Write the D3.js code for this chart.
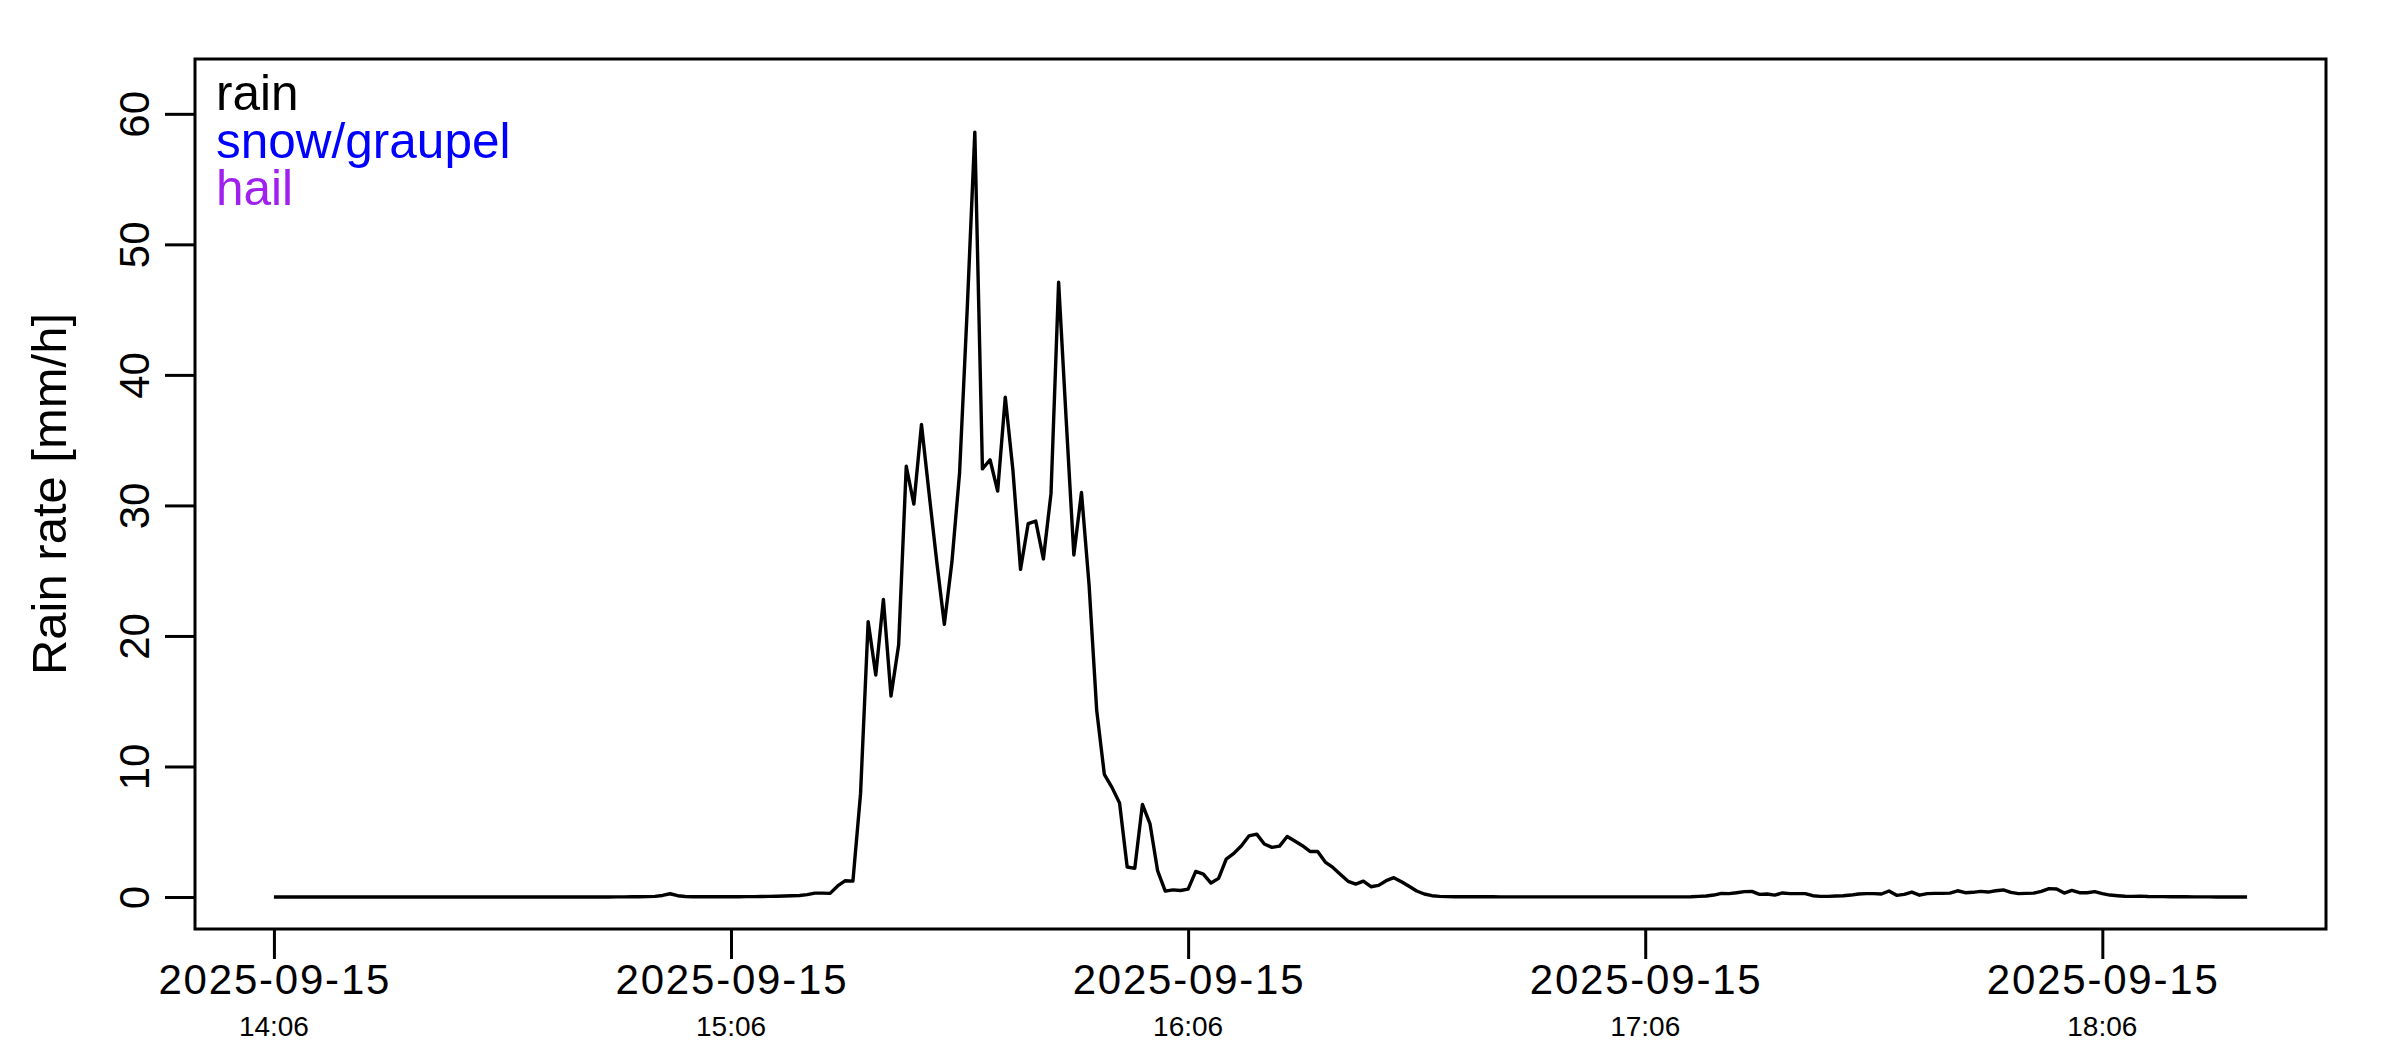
<!DOCTYPE html>
<html>
<head>
<meta charset="utf-8">
<script src="https://cdn.jsdelivr.net/npm/d3@7"></script>
<style>
  html, body { margin: 0; padding: 0; background: #fff; }
  svg { display: block; }
  text { font-family: "Liberation Sans", Arial, Helvetica, sans-serif; fill: #000; }
</style>
</head>
<body>
<svg id="chart" width="2400" height="1050"></svg>
<script>
// ---------------- DATA ----------------
const startTime = "2025-09-15T14:06:00";      // first sample, 1-minute steps
const stepMinutes = 1;
const rainRate = [
  0,0,0,0,0,0,0,0,0,0,
  0,0,0,0,0,0,0,0,0,0,
  0,0,0,0,0,0,0,0,0,0,
  0,0,0,0,0,0,0,0,0,0,
  0,0,0,0,0,0.01,0.01,0.02,0.02,0.03,
  0.05,0.12,0.25,0.1,0.04,0.02,0.02,0.02,0.02,0.02,
  0.02,0.02,0.03,0.03,0.04,0.05,0.06,0.08,0.1,0.12,
  0.18,0.3,0.3,0.28,0.85,1.25,1.22,7.9,21.1,17.0,
  22.8,15.4,19.3,33.0,30.1,36.2,30.9,25.7,20.9,25.7,
  32.5,45.0,58.6,32.8,33.5,31.1,38.3,32.7,25.1,28.6,
  28.8,25.9,30.9,47.1,36.5,26.2,31.0,23.9,14.3,9.4,
  8.4,7.2,2.3,2.2,7.1,5.6,2.0,0.45,0.55,0.5,
  0.6,1.96,1.76,1.07,1.43,2.91,3.34,3.93,4.69,4.82,
  4.06,3.80,3.90,4.64,4.29,3.93,3.49,3.49,2.68,2.27,
  1.73,1.20,0.99,1.22,0.79,0.89,1.25,1.48,1.17,0.82,
  0.46,0.23,0.1,0.05,0.03,0.02,0.02,0.02,0.02,0.02,
  0.02,0.01,0.01,0.01,0.01,0.01,0.01,0.01,0.01,0.01,
  0.01,0.01,0.01,0.01,0.01,0.01,0.01,0.01,0.01,0.01,
  0.01,0.01,0.01,0.01,0.01,0.01,0.02,0.05,0.08,0.15,
  0.28,0.26,0.33,0.41,0.43,0.2,0.23,0.15,0.31,0.26,
  0.26,0.26,0.1,0.05,0.05,0.08,0.1,0.15,0.23,0.26,
  0.26,0.23,0.46,0.13,0.2,0.38,0.14,0.26,0.28,0.28,
  0.3,0.48,0.33,0.36,0.43,0.38,0.48,0.54,0.36,0.26,
  0.28,0.3,0.43,0.64,0.62,0.3,0.51,0.33,0.33,0.41,
  0.26,0.15,0.1,0.06,0.05,0.07,0.04,0.03,0.03,0.02,
  0.02,0.02,0.01,0.01,0.01,0,0,0,0,0
];
const yTicks = [0, 10, 20, 30, 40, 50, 60];
const xTickTimes = ["2025-09-15T14:06:00","2025-09-15T15:06:00","2025-09-15T16:06:00","2025-09-15T17:06:00","2025-09-15T18:06:00"];
const xTickDates = ["2025-09-15","2025-09-15","2025-09-15","2025-09-15","2025-09-15"];
const xTickClock = ["14:06","15:06","16:06","17:06","18:06"];
const legendLabels = ["rain", "snow/graupel", "hail"];
const legendColors = ["#000000", "#0000ff", "#a020f0"];
const yTitle = "Rain rate [mm/h]";

// ---------------- LAYOUT ----------------
const box = { left: 195, right: 2326, top: 59, bottom: 929 };
const svg = d3.select("#chart");

const t0 = new Date(startTime);
const times = rainRate.map((_, i) => new Date(t0.getTime() + i * stepMinutes * 60000));
const tMin = times[0].getTime(), tMax = times[times.length - 1].getTime();
const pad = (tMax - tMin) * 0.04;

const x = d3.scaleTime()
  .domain([new Date(tMin - pad), new Date(tMax + pad)])
  .range([box.left, box.right]);
const y = d3.scaleLinear()
  .domain([-2.45, 64.2])
  .range([box.bottom, box.top]);

// data line
const line = d3.line()
  .x((d, i) => x(times[i]))
  .y(d => y(d));
svg.append("path")
  .datum(rainRate)
  .attr("d", line)
  .attr("fill", "none")
  .attr("stroke", "#000")
  .attr("stroke-width", 3.4)
  .attr("stroke-linejoin", "round");

// box
svg.append("rect")
  .attr("x", box.left).attr("y", box.top)
  .attr("width", box.right - box.left).attr("height", box.bottom - box.top)
  .attr("fill", "none").attr("stroke", "#000").attr("stroke-width", 3);

// y axis
const yAxis = svg.append("g")
  .attr("transform", `translate(${box.left},0)`)
  .call(d3.axisLeft(y).tickValues(yTicks).tickSize(30).tickSizeOuter(0).tickFormat(d3.format("d")));
yAxis.select(".domain").remove();
yAxis.selectAll(".tick line").attr("stroke", "#000").attr("stroke-width", 3);
yAxis.selectAll(".tick text")
  .attr("transform", "rotate(-90)")
  .attr("x", 0).attr("y", -46).attr("dy", 0)
  .attr("text-anchor", "middle")
  .style("font-size", "42px")
  .style("font-family", '"Liberation Sans", Arial, sans-serif')
  .attr("fill", "#000");

// x axis
const xTickDateObjs = xTickTimes.map(s => new Date(s));
const xAxis = svg.append("g")
  .attr("transform", `translate(0,${box.bottom})`)
  .call(d3.axisBottom(x).tickValues(xTickDateObjs).tickSize(30).tickSizeOuter(0).tickFormat(() => ""));
xAxis.select(".domain").remove();
xAxis.selectAll(".tick line").attr("stroke", "#000").attr("stroke-width", 3);
xAxis.selectAll(".tick text").remove();

const xl = svg.append("g");
xTickDateObjs.forEach((d, i) => {
  xl.append("text")
    .attr("x", x(d)).attr("y", 994)
    .attr("text-anchor", "middle")
    .attr("textLength", 231).attr("lengthAdjust", "spacing")
    .style("font-size", "42px")
    .text(xTickDates[i]);
  xl.append("text")
    .attr("x", x(d)).attr("y", 1036)
    .attr("text-anchor", "middle")
    .style("font-size", "28px")
    .text(xTickClock[i]);
});

// y title
svg.append("text")
  .attr("transform", `translate(66,${(box.top + box.bottom) / 2}) rotate(-90)`)
  .attr("text-anchor", "middle")
  .style("font-size", "49px")
  .text(yTitle);

// legend
legendLabels.forEach((lab, i) => {
  svg.append("text")
    .attr("x", 216).attr("y", 110 + i * 47.5)
    .style("font-size", "49.5px")
    .style("fill", legendColors[i])
    .text(lab);
});
</script>
</body>
</html>
